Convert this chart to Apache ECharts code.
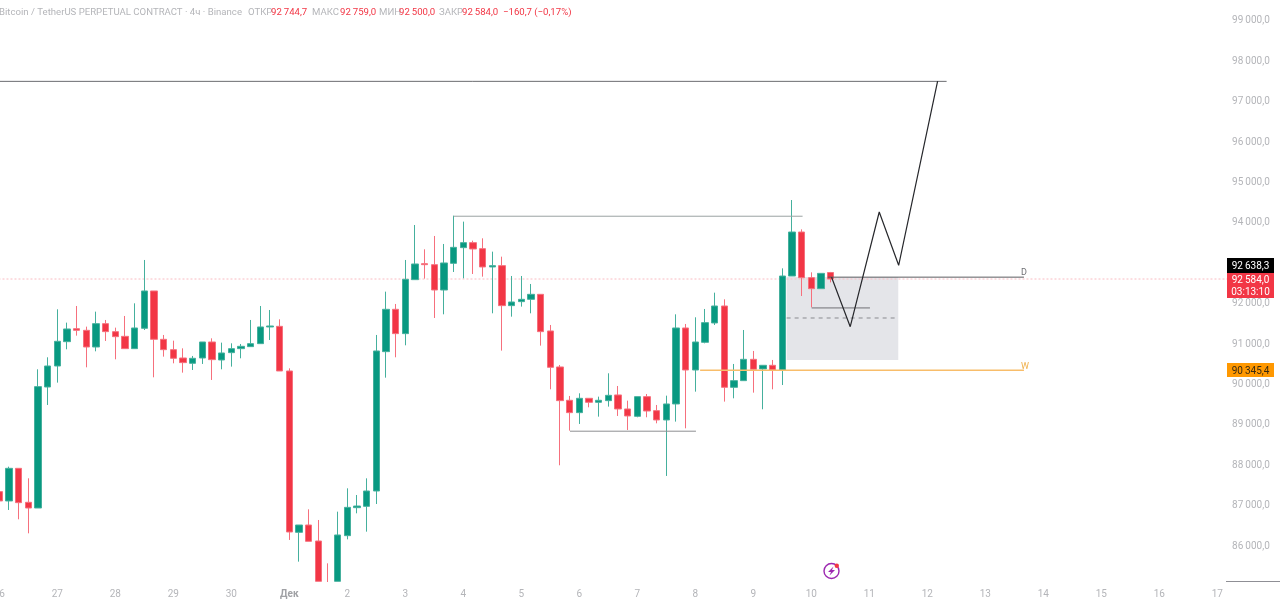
<!DOCTYPE html>
<html>
<head>
<meta charset="utf-8">
<title>BTCUSDT 4h</title>
<script src="https://cdn.jsdelivr.net/npm/echarts@6/dist/echarts.min.js"></script>
<style>
  html, body { margin: 0; padding: 0; background: #fff; }
  #main { width: 1280px; height: 599px; }
</style>
</head>
<body>
<div id="main"></div>
<script>
// 4h candles
var opens = [87321,87090,87898,87057,86916,89911,90431,91033,91355,91314,90901,91479,91281,91165,90860,91364,92288,91091,90835,90629,90497,90629,91025,90580,90761,90860,90910,90984,91397,91413,90307,86314,86495,86099,85000,85101,86231,86924,86957,87337,90786,91834,91232,92568,92964,92939,92312,92972,93360,93484,93335,92882,92915,91925,92024,92081,92205,91298,90407,89582,89276,89631,89532,89573,89714,89367,89185,89672,89326,89095,89491,91372,90332,91017,91496,91916,89903,90068,90596,90357,90448,90332,92658,93747,92617,92345,92744.7];
var closes = [87090,87898,87048,86916,89920,90431,91042,91347,91314,90901,91479,91281,91157,90860,91372,92288,91091,90835,90621,90514,90621,91025,90588,90753,90860,90918,90984,91397,91421,90307,86322,86495,86091,85101,85000,86248,86932,86965,87337,90803,91834,91232,92576,92956,92939,92312,92981,93368,93484,93327,92882,92915,91925,92015,92081,92205,91281,90398,89573,89276,89631,89532,89582,89705,89367,89194,89672,89317,89095,89491,91372,90332,91025,91504,91916,89903,90068,90596,90349,90448,90332,92658,93747,92617,92345,92724,92584];
var lows = [87090,86867,86636,86289,86916,89466,90019,90844,91182,90398,90794,91050,90596,90860,90860,91322,90151,90662,90497,90266,90332,90481,90085,90349,90415,90621,90910,90984,91075,90307,86125,85588,86091,85101,85000,85101,86140,86784,86330,87015,90142,90646,90943,92568,92593,91619,91710,92758,92601,92708,92642,91735,90811,91652,91900,91735,90935,89854,87973,88831,88996,89408,89177,89425,89194,88847,89161,89161,89012,87709,89054,88888,89796,90992,91446,89549,89631,90068,89771,89359,89854,89960,92658,92163,91883,92345,92500];
var highs = [87321,87939,87898,87651,90349,90646,91834,91504,91916,91405,91776,91570,91380,91669,91982,93055,92288,91199,91058,90868,90679,91025,91116,91009,90992,90976,91570,91916,91817,91586,90373,86495,86883,86619,85546,86825,87403,87238,87650,91199,92271,91966,93055,93921,93319,93649,93451,94152,94004,93533,93591,93261,93137,92659,92659,92461,92205,91446,90456,89689,89755,89631,89672,90250,89936,89573,89672,89738,89466,89697,91710,91471,91636,91842,92246,92081,90481,91322,90803,90448,90580,92848,94539,93813,92749,92724,92759];

var dayLabels = ['26','27','28','29','30','Дек','2','3','4','5','6','7','8','9','10','11','12','13','14','15','16','17'];
var yTicks = [99000,98000,97000,96000,95000,94000,93000,92000,91000,90000,89000,88000,87000,86000];

var lastPrice = 92584.0;
var lastBid = 92638.3;
var weekPrice = 90345.4;
var countdown = '03:13:10';

// levels drawn on the chart, [candle index, price]
var topLevel = [[-0.5,97476],[98,97476]];
var highLevel = [[47,94138],[83.1,94138]];
var lowLevel = [[59.04,88817],[72.07,88817]];
var subLevel = [[84.04,91868],[90.07,91868]];
var dayLevel = [[85.7,92630],[106,92630]];
var weekLevel = [[72.5,90325],[106,90325]];
var lastLevel = [[-0.5,lastPrice],[127.5,lastPrice]];
var zoneMid = [[81.45,91619],[93,91619]];
var zoneBox = [[81.45,92634],[93,90579]];
var zigzag = [[86.1,92626],[88.03,91404],[91.03,94243],[93.04,92923],[97.07,97485]];

var UP = '#089981', DOWN = '#f23645', GREY = '#b4b5b9', FONT = 'Roboto';

var categories = [];
for (var d = 0; d < dayLabels.length; d++) {
    for (var k = 0; k < 6 && categories.length < 128; k++) {
        categories.push(k === 0 ? dayLabels[d] : '');
    }
}

var candles = opens.map(function (o, i) {
    return [o, closes[i], lows[i], highs[i]];
});

function fmt(v) {
    var s = v.toFixed(1).replace('.', ',');
    return s.slice(0, 2) + '\u2009' + s.slice(2);
}

function levelLine(data, color, width, extra) {
    var s = {
        type: 'line',
        xAxisIndex: 1,
        data: data,
        symbol: 'none',
        silent: true,
        z: 3,
        lineStyle: { color: color, width: width }
    };
    for (var key in extra) s[key] = extra[key];
    return s;
}

// header, split in the same pieces as the legend of the terminal
var header = [
    [-1, 'Bitcoin / TetherUS PERPETUAL CONTRACT · 4ч · Binance', GREY],
    [248, 'ОТКР', GREY], [271, '92\u2009744,7', DOWN],
    [312, 'МАКС', GREY], [340, '92\u2009759,0', DOWN],
    [379, 'МИН', GREY], [399, '92\u2009500,0', DOWN],
    [439, 'ЗАКР', GREY], [462, '92\u2009584,0', DOWN],
    [503, '\u2212160,7 (\u22120,17%)', DOWN]
];
var graphics = header.map(function (h) {
    return {
        type: 'text', x: h[0], y: 13, z: 100, silent: true,
        style: { text: h[1], fill: h[2], font: '9.6px ' + FONT, verticalAlign: 'middle' }
    };
});

// price tags on the scale
function tag(y, h, color, text, textColor) {
    graphics.push({ type: 'rect', z: 100, silent: true, shape: { x: 1227, y: y, width: 47, height: h }, style: { fill: color } });
    graphics.push({
        type: 'text', x: 1250.5, y: y + h / 2 + 1, z: 101, silent: true,
        style: { text: text, fill: textColor, font: '10px ' + FONT, align: 'center', verticalAlign: 'middle', lineHeight: 12 }
    });
}
tag(258, 15, '#000000', fmt(lastBid), '#ffffff');
tag(273, 25, DOWN, fmt(lastPrice) + '\n' + countdown, '#ffffff');
tag(363, 14, '#ff9800', fmt(weekPrice), '#3a2a10');

// candles end where the time scale starts
graphics.push({ type: 'rect', z: 50, silent: true, shape: { x: 0, y: 582, width: 1226, height: 5 }, style: { fill: '#ffffff' } });
graphics.push({ type: 'line', z: 100, silent: true, shape: { x1: 1226, y1: 581.5, x2: 1280, y2: 581.5 }, style: { stroke: '#8f8f95', lineWidth: 1 } });

// replay badge
graphics.push({ type: 'circle', z: 100, silent: true, shape: { cx: 831.5, cy: 571, r: 7.5 }, style: { fill: '#fff', stroke: '#9c27b0', lineWidth: 1.4 } });
graphics.push({ type: 'polygon', z: 101, silent: true, shape: { points: [[833.5,566.5],[828,572],[831,572],[829.5,575.5],[835,570],[832,570]] }, style: { fill: '#9c27b0' } });
graphics.push({ type: 'circle', z: 102, silent: true, shape: { cx: 836.8, cy: 565.7, r: 2.2 }, style: { fill: DOWN } });

var myChart = echarts.init(document.getElementById('main'), null, { renderer: 'canvas' });

var option = {
    animation: false,
    backgroundColor: '#ffffff',
    grid: { left: -5.53, top: -0.4, width: 1237.3, height: 585.8, outerBoundsMode: 'none' },
    xAxis: [
        {
            type: 'category',
            data: categories,
            axisLine: { show: false },
            axisTick: { show: false },
            splitLine: { show: false },
            axisLabel: {
                interval: 0,
                margin: 4,
                color: GREY,
                fontFamily: FONT,
                fontSize: 10,
                hideOverlap: false,
                formatter: function (v) {
                    return v === 'Дек' ? '{b|' + v + '}' : v;
                },
                rich: { b: { color: '#a0a1a5', fontWeight: 'bold', fontFamily: FONT, fontSize: 10 } }
            }
        },
        { type: 'value', show: false, min: -0.5, max: 127.5, splitLine: { show: false } }
    ],
    yAxis: {
        type: 'value',
        position: 'right',
        min: 85000,
        max: 99500,
        interval: 1000,
        axisLine: { show: false },
        axisTick: { show: false },
        splitLine: { show: false },
        axisLabel: {
            showMinLabel: false,
            showMaxLabel: false,
            align: 'right',
            margin: 38,
            color: GREY,
            fontFamily: FONT,
            fontSize: 10,
            formatter: function (v) {
                return yTicks.indexOf(v) >= 0 ? '{a|' + fmt(v) + '}' : '';
            },
            rich: { a: { color: GREY, fontFamily: FONT, fontSize: 10, padding: [2, 0, 0, 0] } }
        }
    },
    graphic: graphics,
    series: [
        levelLine(zoneMid, '#8a8b90', 1, {
            z: 1,
            lineStyle: { color: '#8a8b90', width: 1, type: [4, 4] },
            markArea: {
                silent: true,
                itemStyle: { color: '#e4e5e9' },
                data: [[{ coord: zoneBox[0] }, { coord: zoneBox[1] }]]
            }
        }),
        levelLine(lastLevel, '#f9bcc3', 1, {
            z: 1,
            lineStyle: { color: '#f9bcc3', width: 1, type: [2, 2] }
        }),
        {
            type: 'candlestick',
            data: candles,
            barWidth: 7,
            z: 2,
            itemStyle: {
                color: UP,
                color0: DOWN,
                borderColor: '#45b09d',
                borderColor0: '#f6707d',
                borderWidth: 1
            }
        },
        levelLine(topLevel, '#6b6c70', 1),
        levelLine(highLevel, '#9aa3a3', 1),
        levelLine(lowLevel, '#8d8e92', 1),
        levelLine(subLevel, '#6f7074', 1),
        levelLine(dayLevel, '#5c5d61', 1, {
            endLabel: { show: true, formatter: 'D', color: '#6f7074', fontFamily: FONT, fontSize: 9, offset: [-11, -4] }
        }),
        levelLine(weekLevel, '#f8bd6a', 1.3, {
            endLabel: { show: true, formatter: 'W', color: '#f0b04a', fontFamily: FONT, fontSize: 9, offset: [-11, -4] }
        }),
        levelLine(zigzag, '#26272b', 1.2, { z: 5 })
    ]
};

myChart.setOption(option);
</script>
</body>
</html>
